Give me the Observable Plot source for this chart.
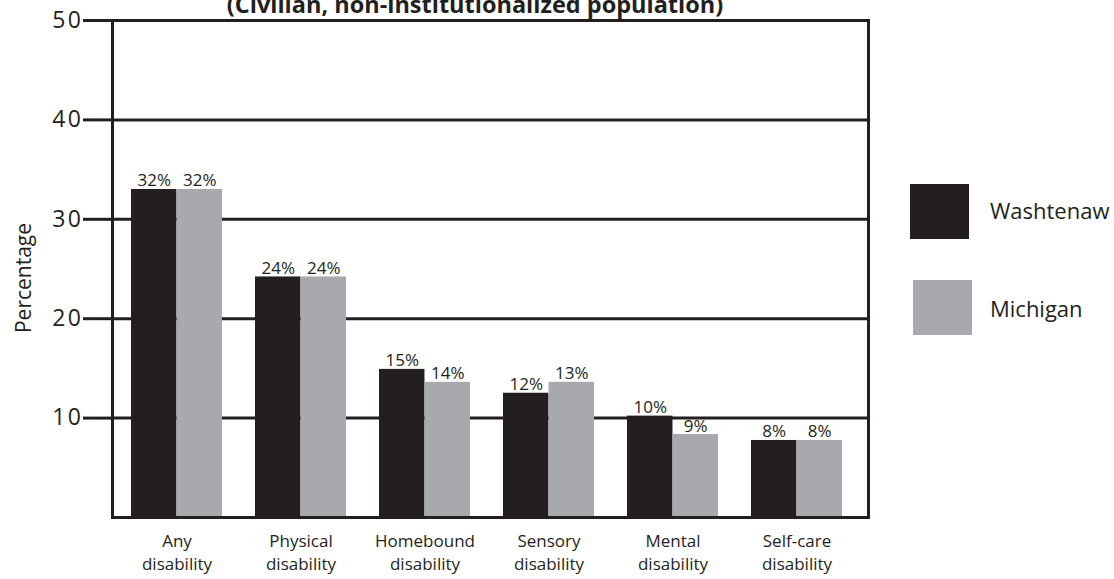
<!DOCTYPE html>
<html>
<head>
<meta charset="utf-8">
<script src="https://cdn.jsdelivr.net/npm/d3@7"></script>
<script src="https://cdn.jsdelivr.net/npm/@observablehq/plot@0.6"></script>
<style>
  body { margin: 0; background: #fff; font-family: "Open Sans", sans-serif; color: #231f20; }
  #wrap { position: relative; width: 1114px; height: 579px; overflow: hidden; }
  #title { position: absolute; left: 475px; top: -12px; transform: translateX(-50%); white-space: nowrap;
           font-weight: 700; font-size: 23.5px; line-height: normal; }
  #ylabel { position: absolute; left: 23px; top: 278px; transform: translate(-50%, -50%) rotate(-90deg);
            white-space: nowrap; font-size: 21px; line-height: 1; }
  .sw { position: absolute; width: 59px; height: 55px; }
  .lt { position: absolute; left: 990px; font-size: 22px; line-height: 30px; white-space: nowrap; }
  svg [aria-label="y-axis tick label"] text { letter-spacing: 2.5px; }
</style>
</head>
<body>
<div id="wrap"></div>
<script>
// ---- data ----
const categories = ["Any disability", "Physical disability", "Homebound disability", "Sensory disability", "Mental disability", "Self-care disability"];
const seriesNames = ["Washtenaw", "Michigan"];
const washtenawValues = [33.0, 24.2, 14.9, 12.5, 10.2, 7.75];
const michiganValues  = [33.0, 24.2, 13.6, 13.6, 8.35, 7.75];
const washtenawLabels = ["32%", "24%", "15%", "12%", "10%", "8%"];
const michiganLabels  = ["32%", "24%", "14%", "13%", "9%", "8%"];
const yTicks = [10, 20, 30, 40, 50];
const titleText = "(Civilian, non-institutionalized population)";
const yLabelText = "Percentage";
const seriesColors = ["#231f20", "#a7a9ac"];

// ---- layout ----
const W = 1114, H = 579;
const mL = 112, mR = 246, mT = 20, mB = 62;
const pIn = 0.266, pOut = 0.18, align = 0.42;
const xb = d3.scaleBand(categories, [mL, W - mR]).paddingInner(pIn).paddingOuter(pOut).align(align);
const half = xb.bandwidth() / 2;
const ink = "#231f20";

const rowsW = categories.map((c, i) => ({category: c, value: washtenawValues[i], label: washtenawLabels[i]}));
const rowsM = categories.map((c, i) => ({category: c, value: michiganValues[i], label: michiganLabels[i]}));

const chart = Plot.plot({
  width: W, height: H,
  marginLeft: mL, marginRight: mR, marginTop: mT, marginBottom: mB,
  style: {color: ink, background: "transparent", fontFamily: "'Open Sans', sans-serif"},
  x: {type: "band", domain: categories, paddingInner: pIn, paddingOuter: pOut, align, axis: null},
  y: {domain: [0, 50], axis: null},
  marks: [
    Plot.ruleY(yTicks, {stroke: ink, strokeWidth: 3}),
    Plot.axisY(yTicks, {tickSize: 29, tickPadding: 0, strokeWidth: 3, fontSize: 23, stroke: ink, fill: ink, label: null}),
    Plot.barY(rowsW, {x: "category", y: "value", fill: seriesColors[0], insetRight: half}),
    Plot.barY(rowsM, {x: "category", y: "value", fill: seriesColors[1], insetLeft: half}),
    Plot.text(rowsW, {x: "category", y: "value", text: "label", dx: -half / 2, dy: -3, lineAnchor: "bottom", fontSize: 17, fill: ink}),
    Plot.text(rowsM, {x: "category", y: "value", text: "label", dx: half / 2, dy: -3, lineAnchor: "bottom", fontSize: 17, fill: ink}),
    Plot.text(categories, {x: d => d, text: d => d.replace(" ", "\n"), frameAnchor: "bottom", lineAnchor: "top",
                           dy: 13, fontSize: 17, lineHeight: 1.36, fill: ink}),
    Plot.frame({stroke: ink, strokeWidth: 3})
  ]
});

const wrap = document.getElementById("wrap");
wrap.appendChild(chart);

const t = document.createElement("div"); t.id = "title"; t.textContent = titleText; wrap.appendChild(t);
const yl = document.createElement("div"); yl.id = "ylabel"; yl.textContent = yLabelText; wrap.appendChild(yl);

const legendTops = [184, 280];
const textTops = [195, 293];
seriesNames.forEach((name, i) => {
  const s = document.createElement("div"); s.className = "sw";
  s.style.left = (910 + i * 3) + "px"; s.style.top = legendTops[i] + "px"; s.style.background = seriesColors[i];
  wrap.appendChild(s);
  const l = document.createElement("div"); l.className = "lt";
  l.style.top = textTops[i] + "px"; l.textContent = name;
  wrap.appendChild(l);
});
</script>
</body>
</html>
